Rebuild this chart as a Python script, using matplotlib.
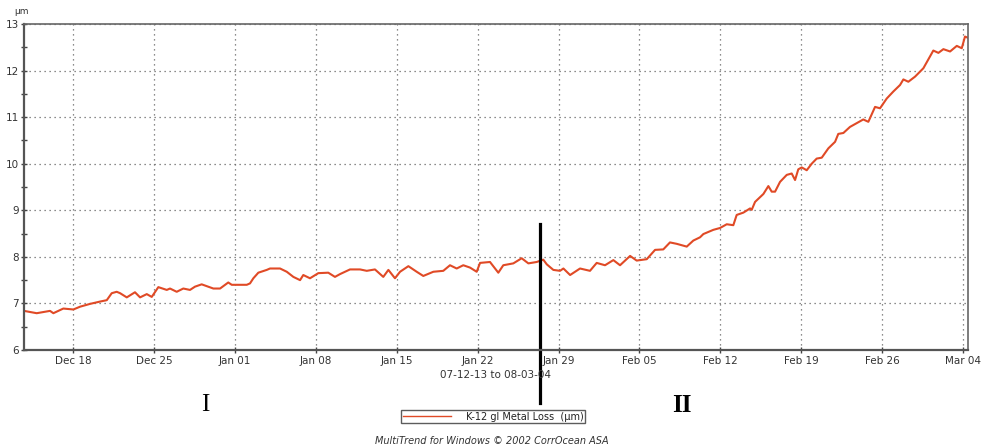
import numpy as np
import matplotlib
matplotlib.use("Agg")
import matplotlib.pyplot as plt
import matplotlib.dates as mdates
from datetime import datetime, timedelta

# metal loss probe reading, days counted from 2007-12-13 00:00
start = datetime(2007, 12, 13)
days = [0.76, 1.86, 3.01, 3.30, 4.16, 5.03, 5.61, 6.47, 7.34, 7.92, 8.35, 8.78, 9.07, 9.65,
        10.36, 10.80, 11.38, 11.81, 12.38, 13.11, 13.39, 13.97, 14.54, 15.12, 15.55, 16.13,
        16.57, 17.14, 17.72, 18.43, 18.73, 19.45, 20.03, 20.31, 20.60, 21.03, 21.76, 22.04,
        22.91, 23.49, 24.06, 24.64, 24.92, 25.50, 26.22, 27.08, 27.66, 28.10, 28.96, 29.83,
        30.41, 31.12, 31.84, 32.28, 32.85, 33.29, 34.01, 34.73, 35.30, 36.17, 37.03, 37.61,
        38.19, 38.76, 39.34, 39.92, 40.21, 41.07, 41.79, 42.22, 43.09, 43.81, 44.39, 45.11,
        45.68, 45.98, 46.55, 47.13, 47.42, 48.00, 48.86, 49.72, 50.30, 51.02, 51.74, 52.32,
        53.19, 53.76, 54.63, 55.35, 56.06, 56.64, 57.22, 58.09, 58.66, 59.24, 59.53, 60.39,
        60.97, 61.55, 62.12, 62.41, 62.99, 63.57, 63.71, 64.00, 64.72, 65.15, 65.44, 65.73,
        66.16, 66.74, 67.17, 67.46, 67.74, 68.04, 68.47, 68.90, 69.33, 69.77, 70.34, 70.92,
        71.20, 71.64, 72.21, 72.50, 73.36, 73.80, 74.38, 74.81, 75.39, 75.96, 76.54, 76.83,
        77.26, 77.84, 78.56, 78.99, 79.42, 79.86, 80.29, 80.87, 81.45, 81.88, 82.16, 82.36]
metal_loss = [6.84, 6.79, 6.84, 6.79, 6.89, 6.87, 6.93, 6.99, 7.04, 7.07, 7.22, 7.25, 7.22, 7.13,
              7.24, 7.13, 7.20, 7.14, 7.35, 7.29, 7.32, 7.25, 7.32, 7.29, 7.36, 7.41,
              7.37, 7.32, 7.32, 7.45, 7.40, 7.40, 7.40, 7.43, 7.54, 7.66, 7.72, 7.75,
              7.75, 7.68, 7.57, 7.50, 7.61, 7.54, 7.65, 7.66, 7.57, 7.63, 7.73, 7.73,
              7.70, 7.73, 7.57, 7.72, 7.54, 7.68, 7.80, 7.68, 7.59, 7.68, 7.70, 7.82,
              7.75, 7.82, 7.77, 7.68, 7.87, 7.89, 7.66, 7.82, 7.86, 7.97, 7.86, 7.89,
              7.94, 7.84, 7.72, 7.70, 7.75, 7.61, 7.75, 7.70, 7.87, 7.82, 7.93, 7.82,
              8.02, 7.92, 7.95, 8.15, 8.16, 8.31, 8.28, 8.22, 8.35, 8.42, 8.49, 8.58,
              8.62, 8.70, 8.68, 8.90, 8.95, 9.04, 9.01, 9.18, 9.35, 9.52, 9.40, 9.40,
              9.61, 9.76, 9.79, 9.65, 9.88, 9.92, 9.86, 10.00, 10.11, 10.13, 10.33, 10.47,
              10.64, 10.66, 10.79, 10.83, 10.95, 10.90, 11.22, 11.19, 11.40, 11.55, 11.69, 11.81,
              11.76, 11.87, 12.05, 12.24, 12.43, 12.38, 12.46, 12.41, 12.53, 12.48, 12.73, 12.71]
tick_days = [5, 12, 19, 26, 33, 40, 47, 54, 61, 68, 75, 82]
marker_day = 45.40

times = [start + timedelta(days=d) for d in days]
ticks = [start + timedelta(days=d) for d in tick_days]

fig = plt.figure(figsize=(9.87, 4.47), dpi=100)
ax = fig.add_axes([24 / 987, 1 - 350 / 447, 944 / 987, 326 / 447])

line_color = "#e04a26"
ax.plot(times, metal_loss, color=line_color, lw=1.5)

ax.set_xlim(start + timedelta(days=0.76), start + timedelta(days=82.42))
ax.set_ylim(6, 13)
ax.set_xticks(ticks)
ax.xaxis.set_major_formatter(mdates.DateFormatter("%b %d"))
ax.set_yticks(range(6, 14))
ax.set_yticks(np.arange(6.5, 13, 1.0), minor=True)

ax.grid(True, which="major", linestyle=(0, (1, 3)), color="#666666", lw=0.9)
ax.tick_params(axis="both", which="both", direction="inout", colors="#444444",
               labelcolor="#333333", labelsize=7.5, length=5, width=1)
ax.tick_params(axis="y", pad=1)
ax.tick_params(axis="x", pad=2)

for side in ["left", "bottom"]:
    ax.spines[side].set_color("#555555")
    ax.spines[side].set_linewidth(1.6)
for side in ["top", "right"]:
    ax.spines[side].set_color("#666666")
    ax.spines[side].set_linewidth(1.2)

fig.text(14 / 987, 1 - 11 / 447, "µm", fontsize=6.5, color="#333333", va="center")
fig.text(496 / 987, 1 - 375.5 / 447, "07-12-13 to 08-03-04", fontsize=7.5,
         color="#333333", ha="center", va="center")

# separator between the two phases, reaching below the axes
ax.axvline(start + timedelta(days=marker_day), ymin=-0.163, ymax=0.387,
           clip_on=False, color="black", lw=2.3)

fig.text(205 / 987, 1 - 405 / 447, "I", fontsize=18, family="Liberation Serif",
         ha="center", va="center")
fig.text(682 / 987, 1 - 405 / 447, "II", fontsize=18, family="Liberation Serif",
         weight="bold", ha="center", va="center")

leg = ax.legend(["K-12 gl Metal Loss  (µm)"], loc="center",
                bbox_to_anchor=(493 / 987, 1 - 416.5 / 447), bbox_transform=fig.transFigure,
                fontsize=7, frameon=True, fancybox=False, handlelength=5.0,
                borderpad=0.15, handletextpad=1.5, borderaxespad=0)
leg.get_frame().set_edgecolor("#333333")
leg.get_frame().set_linewidth(1.0)
leg.get_lines()[0].set_linewidth(1.0)
for t in leg.get_texts():
    t.set_color("#222222")

fig.text(492 / 987, 1 - 441 / 447, "MultiTrend for Windows © 2002 CorrOcean ASA",
         fontsize=7, style="italic", color="#333333", ha="center", va="center")

fig.savefig("out.png", dpi=100)
